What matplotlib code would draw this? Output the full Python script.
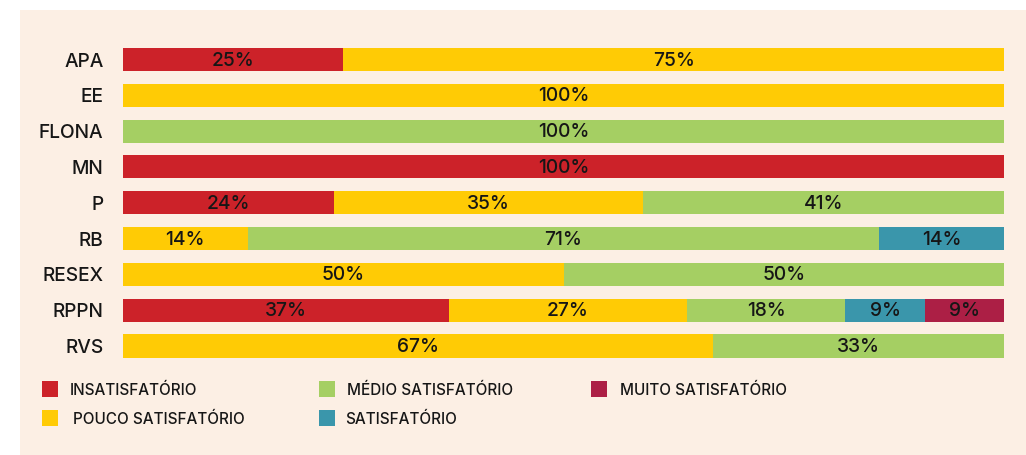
import matplotlib
matplotlib.use("Agg")
import matplotlib.pyplot as plt
from matplotlib.patches import Rectangle
import numpy as np

categories = ["APA", "EE", "FLONA", "MN", "P", "RB", "RESEX", "RPPN", "RVS"]
series_names = ["INSATISFATÓRIO", "POUCO SATISFATÓRIO", "MÉDIO SATISFATÓRIO",
                "SATISFATÓRIO", "MUITO SATISFATÓRIO"]
insatisfatorio = [25, 0, 0, 100, 24, 0, 0, 37, 0]
pouco = [75, 100, 0, 0, 35, 14, 50, 27, 67]
medio = [0, 0, 100, 0, 41, 71, 50, 18, 33]
satisfatorio = [0, 0, 0, 0, 0, 14, 0, 9, 0]
muito = [0, 0, 0, 0, 0, 0, 0, 9, 0]

colors = ["#CC2229", "#FFCB05", "#A5CF63", "#3A96AB", "#AC1F45"]
BG = "#FCEFE4"
TXT = "#161616"

plt.rcParams['font.family'] = ['Inter', 'DejaVu Sans']

W, H = 1026, 455
fig = plt.figure(figsize=(W / 100, H / 100), dpi=100)
fig.patch.set_facecolor("white")
fig.patches.append(Rectangle((20 / W, 0), 1 - 20 / W, 1 - 10 / H,
                             transform=fig.transFigure, facecolor=BG,
                             edgecolor="none", zorder=-10))

ax_top, ax_bot = 41.6, 363.9
ax = fig.add_axes([123 / W, 1 - ax_bot / H, (1004 - 123) / W, (ax_bot - ax_top) / H])
ax.set_facecolor("none")

data = np.array([insatisfatorio, pouco, medio, satisfatorio, muito], dtype=float)
totals = data.sum(axis=0)
widths = data / totals * 100
y = np.arange(len(categories))
left = np.zeros(len(categories))
for i in range(len(series_names)):
    ax.barh(y, widths[i], left=left, height=0.645, color=colors[i],
            edgecolor="none", label=series_names[i])
    for j in range(len(categories)):
        if data[i, j] > 0:
            ax.text(left[j] + widths[i, j] / 2, y[j] + 0.03, f"{int(data[i, j])}%",
                    ha="center", va="center", fontsize=13.8, color=TXT,
                    fontweight="medium")
    left += widths[i]

ax.set_xlim(0, 100)
ax.set_ylim(len(categories) - 0.5, -0.5)
ax.set_yticks(y)
ax.set_yticklabels(categories, fontsize=13.8, color=TXT, fontweight="medium")
ax.tick_params(axis="y", length=0, pad=14)
ax.set_xticks([])
for s in ax.spines.values():
    s.set_visible(False)

# legend (manual placement)
leg = [
    (0, 42, 381, 70),
    (1, 42, 410, 73),
    (2, 319, 381, 347),
    (3, 319, 410, 345),
    (4, 591, 381, 620),
]
for idx, sx, sy, tx in leg:
    fig.patches.append(Rectangle((sx / W, 1 - (sy + 16) / H), 16 / W, 16 / H,
                                 transform=fig.transFigure, facecolor=colors[idx],
                                 edgecolor="none"))
    fig.text(tx / W, 1 - (sy + 9) / H, series_names[idx], ha="left", va="center",
             fontsize=11, color=TXT, fontweight="medium")

fig.savefig("out.png", dpi=100, facecolor="white")
